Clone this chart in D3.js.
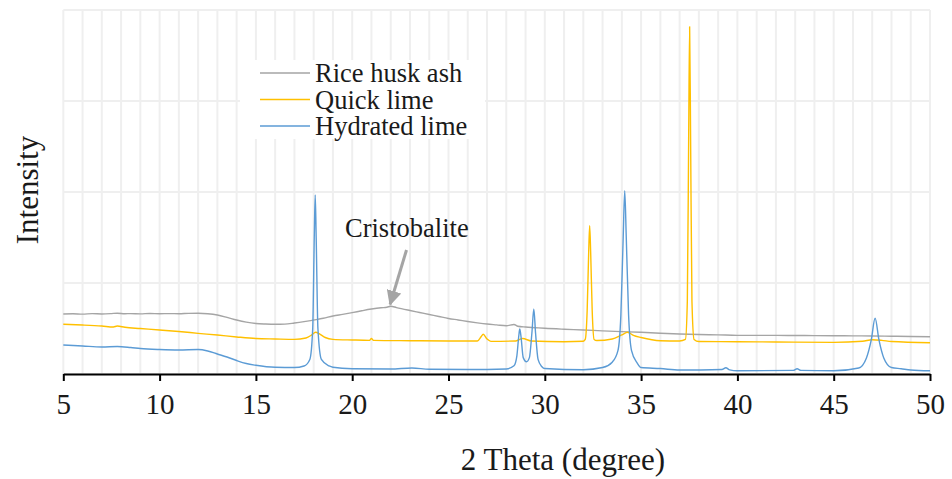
<!DOCTYPE html>
<html>
<head>
<meta charset="utf-8">
<script src="https://cdn.jsdelivr.net/npm/d3@7/dist/d3.min.js"></script>
<style>
  html, body { margin: 0; padding: 0; background: #ffffff; }
  svg { display: block; }
</style>
</head>
<body>
<svg id="chart" width="952" height="479"></svg>
<script>
// XRD patterns: [2θ (degree), intensity (counts)]
const riceHuskAsh = [
  [5,660],[5.5,662],[6,658],[6.5,663],[7,660],[7.5,664],[7.8,668],[8.2,662],[8.5,664],[9,661],
  [9.5,665],[10,662],[10.5,664],[11,662],[11.5,666],[12,667],[12.5,662],[13,648],[13.5,622],
  [14,593],[14.5,570],[15,555],[15.5,549],[16,546],[16.5,548],[17,560],[17.5,575],[18,593],
  [18.5,612],[19,637],[19.5,655],[20,674],[20.5,695],[21,714],[21.5,728],[21.8,733],[22,745],
  [22.3,730],[23,698],[23.5,676],[24,654],[24.5,632],[25,610],[25.5,594],[26,577],[26.5,562],
  [27,549],[27.5,540],[28,531],[28.4,544],[28.6,525],[29,516],[29.5,509],[30,502],[31,492],
  [32,484],[33,474],[34,466],[35,458],[36,448],[37,440],[38,434],[39,430],[40,425],[41,424],
  [42,424],[43,423],[44,422],[45,421],[46,419],[47,418],[48,415],[49,412],[50,410]
];

const quickLime = [
  [5,546],[6,538],[7,527],[7.6,517],[7.8,527],[8.2,513],[9,500],[10,484],[11,467],[12,447],
  [13,428],[14,407],[15,390],[16,385],[17,381],[17.6,396],[17.9,429],[18.1,458],[18.3,440],
  [18.6,401],[19,381],[20,374],[20.9,370],[21,390],[21.1,370],[23,366],[25,363],[26.5,363],
  [26.7,412],[26.8,436],[27,385],[27.2,359],[28.5,363],[28.85,390],[29.3,363],[31,355],[32,360],
  [32.1,380],[32.2,700],[32.28,1350],[32.33,1630],[32.38,1350],[32.46,700],[32.56,380],[32.7,368],
  [33.5,385],[34,430],[34.3,458],[34.6,425],[35,401],[36,366],[37,363],[37.3,380],[37.4,800],
  [37.47,2600],[37.52,3817],[37.57,2600],[37.64,800],[37.75,380],[38,357],[40,355],[42,352],
  [45,348],[46.5,360],[47,377],[47.5,370],[48,357],[50,344]
];

const hydratedLime = [
  [5,319],[6,308],[7,297],[7.8,302],[8.5,291],[9,280],[10,269],[11,264],[12,269],[12.5,253],
  [13,220],[13.5,187],[14,148],[14.5,115],[15,96],[16,74],[17,71],[17.5,88],[17.8,160],
  [17.95,500],[18.03,1500],[18.08,1967],[18.13,1500],[18.22,500],[18.4,160],[18.8,88],[19,74],
  [20,58],[22,55],[23.1,66],[24,52],[26,49],[28,55],[28.4,90],[28.55,200],[28.65,420],
  [28.7,494],[28.76,420],[28.88,180],[29.05,135],[29.2,180],[29.33,450],[29.43,714],[29.52,450],
  [29.65,160],[29.85,80],[30,60],[32,47],[33,71],[33.5,130],[33.8,260],[33.95,650],[34.07,1500],
  [34.15,2014],[34.23,1500],[34.35,650],[34.5,260],[34.8,120],[35,71],[36,60],[37,44],[39.2,50],
  [39.4,69],[39.6,45],[40,35],[42.9,40],[43.1,58],[43.3,40],[45,35],[46.3,66],[46.7,176],
  [46.95,374],[47.15,612],[47.35,374],[47.6,176],[48,71],[48.5,58],[49,44],[50,35]
];

const seriesNames = ["Rice husk ash", "Quick lime", "Hydrated lime"];
const seriesColors = ["#a5a5a5", "#ffc000", "#5b9bd5"];
const seriesData = [riceHuskAsh, quickLime, hydratedLime];

const xTicks = [5, 10, 15, 20, 25, 30, 35, 40, 45, 50];
const xMinorGrid = d3.range(5, 51, 1);
const yGrid = [0, 1000, 2000, 3000, 4000];

const serif = "'Liberation Serif', 'Times New Roman', Times, serif";
const textColor = "#1a1a1a";

const svg = d3.select("#chart");
const plotLeft = 63.3, plotRight = 930, plotTop = 10, plotBottom = 374;

const x = d3.scaleLinear().domain([5, 50]).range([plotLeft, plotRight]);
const y = d3.scaleLinear().domain([0, 4000]).range([plotBottom, plotTop]);

// gridlines
const grid = svg.append("g");
grid.selectAll("line.v").data(xMinorGrid).enter().append("line")
  .attr("class", "v")
  .attr("x1", d => x(d)).attr("x2", d => x(d))
  .attr("y1", y(4000)).attr("y2", y(0))
  .attr("stroke", "#efefef").attr("stroke-width", 2);
grid.selectAll("line.h").data(yGrid).enter().append("line")
  .attr("class", "h")
  .attr("x1", x(5)).attr("x2", x(50))
  .attr("y1", d => y(d)).attr("y2", d => y(d))
  .attr("stroke", "#efefef").attr("stroke-width", 2);

// legend
const legend = svg.append("g");
legend.append("rect").attr("x", 240).attr("y", 60).attr("width", 245).attr("height", 79)
  .attr("fill", "#ffffff");
const legendRows = [73, 99.5, 126];
seriesNames.forEach((name, i) => {
  legend.append("line").attr("x1", 260).attr("x2", 310)
    .attr("y1", legendRows[i]).attr("y2", legendRows[i])
    .attr("stroke", seriesColors[i]).attr("stroke-width", 1.5);
  legend.append("text").attr("x", 315).attr("y", legendRows[i] + 9)
    .style("font-family", serif).style("fill", textColor)
    .attr("font-size", 26.5).text(name);
});

// patterns
const line = d3.line().curve(d3.curveMonotoneX).x(d => x(d[0])).y(d => y(d[1]));
seriesData.forEach((data, i) => {
  svg.append("path").datum(data)
    .attr("fill", "none")
    .attr("stroke", seriesColors[i])
    .attr("stroke-width", 1.4)
    .attr("stroke-linejoin", "round")
    .attr("d", line);
});

// x axis
const axis = svg.append("g").attr("transform", `translate(0,${plotBottom})`)
  .call(d3.axisBottom(x).tickValues(xTicks).tickSize(7).tickSizeOuter(0).tickPadding(12));
axis.select(".domain").attr("stroke", "#000").attr("stroke-width", 2);
axis.selectAll(".tick line").attr("stroke", "#000").attr("stroke-width", 2);
axis.selectAll(".tick text")
  .style("font-family", serif).style("fill", textColor)
  .attr("font-size", 29);

// axis titles
svg.append("text").attr("x", 563).attr("y", 470).attr("text-anchor", "middle")
  .style("font-family", serif).style("fill", textColor)
  .attr("font-size", 31).text("2 Theta (degree)");
svg.append("text").attr("transform", "translate(38,190) rotate(-90)")
  .attr("text-anchor", "middle")
  .style("font-family", serif).style("fill", textColor)
  .attr("font-size", 31).text("Intensity");

// Cristobalite annotation
svg.append("defs").append("marker")
  .attr("id", "arrowHead").attr("viewBox", "0 0 10 10")
  .attr("refX", 9).attr("refY", 5)
  .attr("markerWidth", 5).attr("markerHeight", 5)
  .attr("markerUnits", "strokeWidth")
  .attr("orient", "auto")
  .append("path").attr("d", "M0,0 L10,5 L0,10 Z").attr("fill", "#a5a5a5");
svg.append("line")
  .attr("x1", 406.5).attr("y1", 250)
  .attr("x2", x(21.97)).attr("y2", y(745) - 2)
  .attr("stroke", "#a5a5a5").attr("stroke-width", 3)
  .attr("marker-end", "url(#arrowHead)");
svg.append("text").attr("x", 345).attr("y", 236.5)
  .style("font-family", serif).style("fill", textColor)
  .attr("font-size", 26.5).text("Cristobalite");
</script>
</body>
</html>
